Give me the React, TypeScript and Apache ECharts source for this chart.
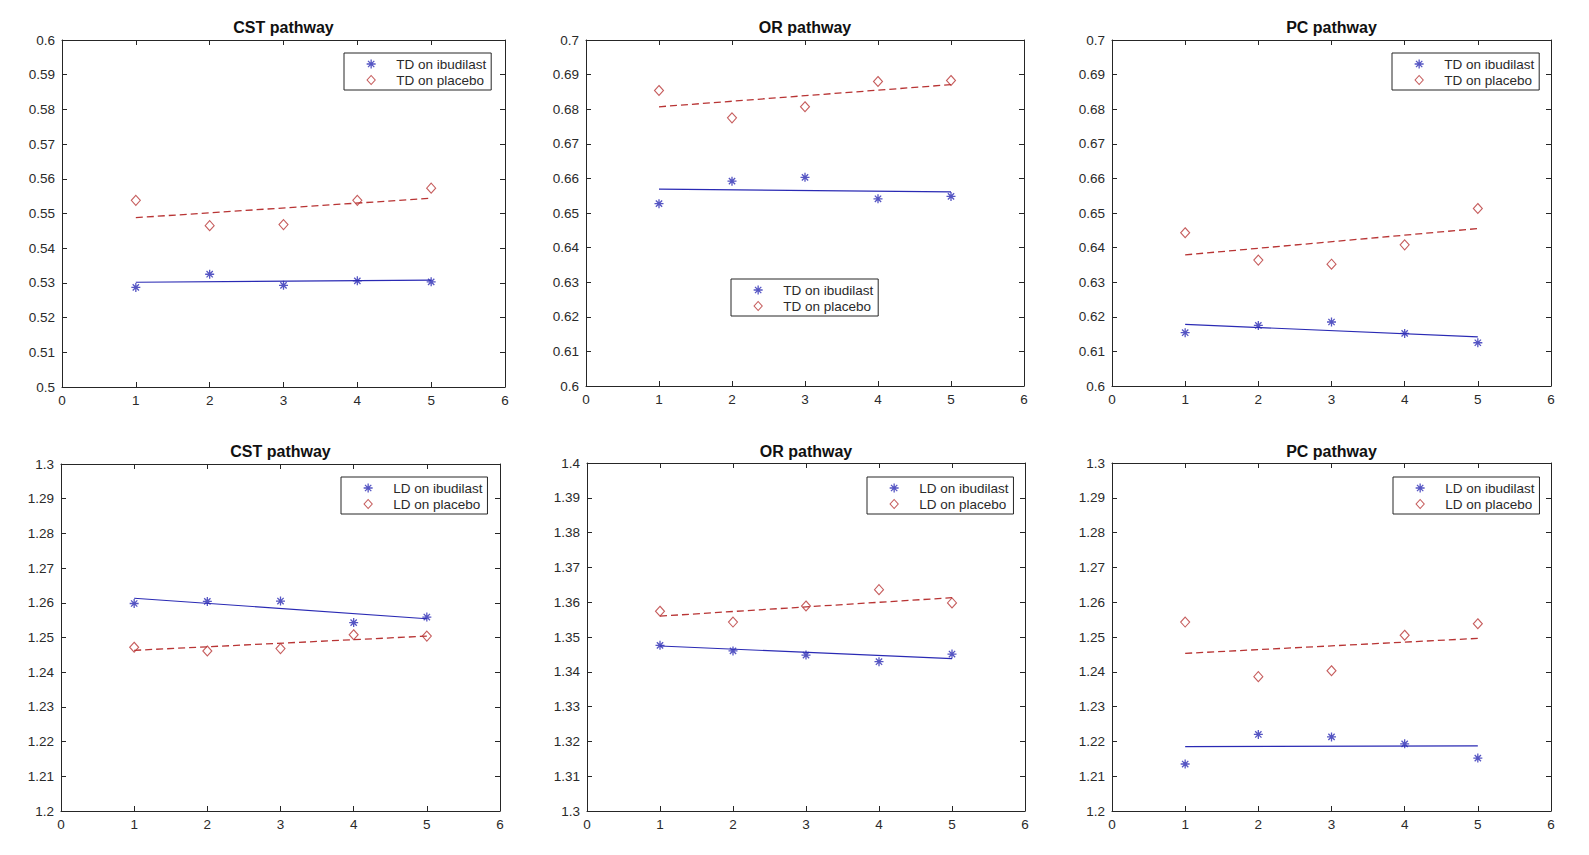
import React, { useEffect, useRef } from "react";
import * as echarts from "echarts";

// ---- data ----
const timePoints = [1, 2, 3, 4, 5];
const fitEnds = [1, 5];

const panelTitles = ["CST pathway", "OR pathway", "PC pathway", "CST pathway", "OR pathway", "PC pathway"];
const ibudilastNames = ["TD on ibudilast", "TD on ibudilast", "TD on ibudilast", "LD on ibudilast", "LD on ibudilast", "LD on ibudilast"];
const placeboNames = ["TD on placebo", "TD on placebo", "TD on placebo", "LD on placebo", "LD on placebo", "LD on placebo"];
const yMins = [0.5, 0.6, 0.6, 1.2, 1.3, 1.2];
const yMaxs = [0.6, 0.7, 0.7, 1.3, 1.4, 1.3];

const cstTdIbudilast = [0.5287, 0.5325, 0.5293, 0.5306, 0.5303];
const cstTdPlacebo = [0.5538, 0.5465, 0.5468, 0.5538, 0.5573];
const cstTdIbudilastFit = [0.5302, 0.5308];
const cstTdPlaceboFit = [0.5488, 0.5544];

const orTdIbudilast = [0.6527, 0.6592, 0.6603, 0.6541, 0.6548];
const orTdPlacebo = [0.6854, 0.6775, 0.6807, 0.688, 0.6883];
const orTdIbudilastFit = [0.6569, 0.6561];
const orTdPlaceboFit = [0.6807, 0.6871];

const pcTdIbudilast = [0.6154, 0.6175, 0.6185, 0.6152, 0.6125];
const pcTdPlacebo = [0.6443, 0.6364, 0.6352, 0.6408, 0.6513];
const pcTdIbudilastFit = [0.6178, 0.6142];
const pcTdPlaceboFit = [0.6379, 0.6455];

const cstLdIbudilast = [1.2598, 1.2604, 1.2605, 1.2543, 1.2559];
const cstLdPlacebo = [1.2472, 1.2461, 1.2468, 1.2508, 1.2504];
const cstLdIbudilastFit = [1.2613, 1.2554];
const cstLdPlaceboFit = [1.2463, 1.2504];

const orLdIbudilast = [1.3476, 1.346, 1.3448, 1.3429, 1.3451];
const orLdPlacebo = [1.3574, 1.3543, 1.3589, 1.3636, 1.3598];
const orLdIbudilastFit = [1.3474, 1.3438];
const orLdPlaceboFit = [1.356, 1.3613];

const pcLdIbudilast = [1.2135, 1.222, 1.2213, 1.2193, 1.2152];
const pcLdPlacebo = [1.2543, 1.2386, 1.2403, 1.2505, 1.2538];
const pcLdIbudilastFit = [1.2185, 1.2187];
const pcLdPlaceboFit = [1.2453, 1.2496];

const ibudilastSets = [cstTdIbudilast, orTdIbudilast, pcTdIbudilast, cstLdIbudilast, orLdIbudilast, pcLdIbudilast];
const placeboSets = [cstTdPlacebo, orTdPlacebo, pcTdPlacebo, cstLdPlacebo, orLdPlacebo, pcLdPlacebo];
const ibudilastFits = [cstTdIbudilastFit, orTdIbudilastFit, pcTdIbudilastFit, cstLdIbudilastFit, orLdIbudilastFit, pcLdIbudilastFit];
const placeboFits = [cstTdPlaceboFit, orTdPlaceboFit, pcTdPlaceboFit, cstLdPlaceboFit, orLdPlaceboFit, pcLdPlaceboFit];

// ---- layout & style ----
const grids = [
  { left: 62, top: 40, width: 443, height: 347 },
  { left: 586, top: 40, width: 438, height: 346 },
  { left: 1112, top: 40, width: 439, height: 346 },
  { left: 61, top: 464, width: 439, height: 347 },
  { left: 587, top: 463, width: 438, height: 348 },
  { left: 1112, top: 463, width: 439, height: 348 },
];
const titleTops = [19, 19, 19, 443, 443, 443];
const legendPos = [
  { left: 344, top: 53 },
  { left: 731, top: 279 },
  { left: 1392, top: 53 },
  { left: 341, top: 477 },
  { left: 867, top: 477 },
  { left: 1393, top: 477 },
];

const FONT = "'Liberation Sans', Arial, Helvetica, sans-serif";
const AXIS = "#262626";
const TEXT = "#2a2a2a";
const BLUE = "#2a2ab4";
const RED = "#b83434";
const ASTERISK = "path://M0,-10L0,10M-10,0L10,0M-7,-7L7,7M-7,7L7,-7";
const DIAMOND = "path://M0,-10L9,0L0,10L-9,0Z";

function buildOption() {
  const xAxis: any[] = [];
  const yAxis: any[] = [];
  const series: any[] = [];
  const title: any[] = [];
  const legend: any[] = [];

  grids.forEach((g, i) => {
    const common = {
      type: "value",
      gridIndex: i,
      splitLine: { show: false },
      axisLine: { show: true, onZero: false, lineStyle: { color: AXIS, width: 1 } },
      axisTick: { show: true, inside: true, length: 5, lineStyle: { color: AXIS } },
    };
    xAxis.push({
      ...common,
      position: "bottom",
      min: 0,
      max: 6,
      interval: 1,
      axisLabel: { color: TEXT, fontSize: 13.5, fontFamily: FONT, margin: 6 },
    });
    xAxis.push({ ...common, position: "top", min: 0, max: 6, interval: 1, axisLabel: { show: false } });
    yAxis.push({
      ...common,
      position: "left",
      min: yMins[i],
      max: yMaxs[i],
      interval: 0.01,
      axisLabel: { color: TEXT, fontSize: 13.5, fontFamily: FONT, margin: 7 },
    });
    yAxis.push({ ...common, position: "right", min: yMins[i], max: yMaxs[i], interval: 0.01, axisLabel: { show: false } });

    const xi = i * 2;
    series.push({
      name: ibudilastNames[i],
      type: "scatter",
      xAxisIndex: xi,
      yAxisIndex: xi,
      symbol: ASTERISK,
      symbolSize: 9,
      itemStyle: { color: "transparent", borderColor: BLUE, borderWidth: 1.3 },
      data: timePoints.map((x, k) => [x, ibudilastSets[i][k]]),
      z: 3,
    });
    series.push({
      name: placeboNames[i],
      type: "scatter",
      xAxisIndex: xi,
      yAxisIndex: xi,
      symbol: DIAMOND,
      symbolSize: [9, 10],
      itemStyle: { color: "transparent", borderColor: RED, borderWidth: 1.1 },
      data: timePoints.map((x, k) => [x, placeboSets[i][k]]),
      z: 3,
    });
    series.push({
      name: "ibudilast fit " + i,
      type: "line",
      xAxisIndex: xi,
      yAxisIndex: xi,
      symbol: "none",
      lineStyle: { color: BLUE, width: 1.1 },
      data: fitEnds.map((x, k) => [x, ibudilastFits[i][k]]),
      z: 2,
    });
    series.push({
      name: "placebo fit " + i,
      type: "line",
      xAxisIndex: xi,
      yAxisIndex: xi,
      symbol: "none",
      lineStyle: { color: RED, width: 1.3, type: [7, 4] },
      data: fitEnds.map((x, k) => [x, placeboFits[i][k]]),
      z: 2,
    });

    title.push({
      text: panelTitles[i],
      left: g.left + g.width / 2,
      top: titleTops[i],
      textAlign: "center",
      padding: 0,
      textStyle: { fontSize: 16, fontWeight: "bold", color: "#111", fontFamily: FONT },
    });

    legend.push({
      orient: "vertical",
      left: legendPos[i].left,
      top: legendPos[i].top,
      itemWidth: 40,
      itemHeight: 9,
      itemGap: 2,
      padding: [4, 5, 3, 22],
      borderColor: AXIS,
      borderWidth: 1,
      backgroundColor: "#ffffff",
      selectedMode: false,
      textStyle: { fontSize: 13.5, color: TEXT, fontFamily: FONT },
      data: [
        {
          name: ibudilastNames[i],
          icon: ASTERISK,
          itemStyle: { color: "transparent", borderColor: BLUE, borderWidth: 1.3 },
        },
        {
          name: placeboNames[i],
          icon: DIAMOND,
          itemStyle: { color: "transparent", borderColor: RED, borderWidth: 1.1 },
        },
      ],
    });
  });

  return {
    animation: false,
    backgroundColor: "#ffffff",
    title,
    legend,
    grid: grids.map((g) => ({ ...g, containLabel: false })),
    xAxis,
    yAxis,
    series,
  };
}

export default function App() {
  const ref = useRef<HTMLDivElement>(null);
  useEffect(() => {
    document.body.style.margin = "0";
    if (!ref.current) return;
    const chart = echarts.init(ref.current, undefined, { renderer: "svg" });
    chart.setOption(buildOption());
    return () => chart.dispose();
  }, []);
  return <div ref={ref} style={{ width: 1589, height: 855, background: "#fff" }} />;
}
